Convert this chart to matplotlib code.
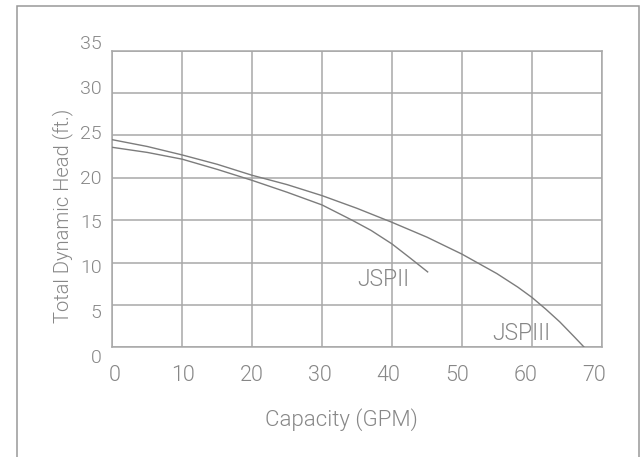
import matplotlib
matplotlib.use('Agg')
import matplotlib.pyplot as plt
import matplotlib.patches as mpatches
import numpy as np

# Pump curves (capacity GPM, total dynamic head ft.)
jspiii_gpm = [0, 5, 10, 15, 20, 25, 30, 35, 40, 45, 50, 55, 58, 60, 62, 64, 66, 67.5]
jspiii_head = [24.5, 23.7, 22.7, 21.6, 20.3, 19.2, 17.9, 16.4, 14.75, 13.0, 11.0,
               8.7, 7.1, 5.9, 4.5, 3.0, 1.3, 0.0]

jspii_gpm = [0, 5, 10, 15, 20, 25, 30, 34.3, 37, 40, 42.5, 45.1]
jspii_head = [23.6, 23.0, 22.2, 21.0, 19.7, 18.3, 16.8, 15.0, 13.8, 12.2, 10.6, 8.9]

x_ticks = [0, 10, 20, 30, 40, 50, 60, 70]
y_ticks = [0, 5, 10, 15, 20, 25, 30, 35]

grid_col = '#a8a8a8'
line_col = '#7c7c7c'
text_col = '#878787'
plt.rcParams['font.family'] = ['Roboto', 'DejaVu Sans']
wt = 300

fig = plt.figure(figsize=(6.44, 4.57), dpi=100)
ax = fig.add_axes([0.1744, 0.240, 0.760, 0.649])

ax.plot(jspiii_gpm, jspiii_head, color=line_col, linewidth=1.0, zorder=3)
ax.plot(jspii_gpm, jspii_head, color=line_col, linewidth=1.0, zorder=3)

ax.set_xlim(0, 70)
ax.set_ylim(0, 35)
ax.set_xticks(x_ticks)
ax.set_yticks(y_ticks)
ax.tick_params(length=0, labelbottom=False, labelleft=False)
ax.grid(True, color=grid_col, linewidth=1.1, zorder=1)
for s in ax.spines.values():
    s.set_color(grid_col)
    s.set_linewidth(1.1)

# tick labels sit on a slightly different spacing than the grid
for v in y_ticks:
    ax.text(-0.0217, -0.0523 + v * 0.03021, str(v), transform=ax.transAxes,
            ha='right', va='baseline', fontsize=14, color=text_col,
            fontweight=wt)
for v in x_ticks:
    ax.text(0.0049 + v * (0.9794 / 70), -0.1146, str(v), transform=ax.transAxes,
            ha='center', va='baseline', fontsize=15.5, color=text_col,
            fontweight=wt)

ax.text(38.77, 7.23, 'JSPII', ha='center', va='baseline', fontsize=16.5,
        color=text_col, fontweight=wt)
ax.text(58.5, 0.86, 'JSPIII', ha='center', va='baseline', fontsize=16.5,
        color=text_col, fontweight=wt)

fig.text(0.5306, 0.0685, 'Capacity (GPM)', ha='center', va='baseline',
         fontsize=16, color=text_col, fontweight=wt)
fig.text(63 / 644, (457 - 216) / 457, 'Total Dynamic Head (ft.)', rotation=90,
         ha='center', va='center', fontsize=14.5, color=text_col,
         fontweight=wt)

# outer frame, open at the bottom
frame = mpatches.Rectangle((17 / 644, -0.02), (638.7 - 17) / 644, 0.02 + (457 - 6) / 457,
                           transform=fig.transFigure, fill=False,
                           edgecolor='#999999', linewidth=1.1)
fig.patches.append(frame)

fig.savefig('out.png', dpi=100)
